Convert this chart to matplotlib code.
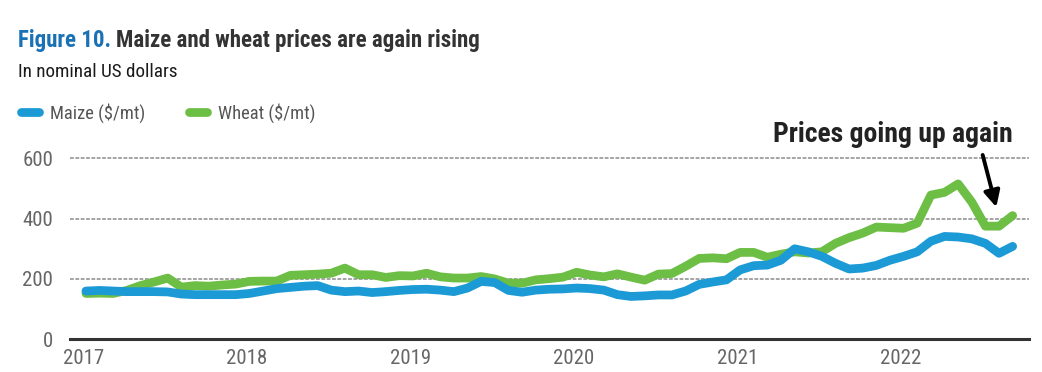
import matplotlib
matplotlib.use("Agg")
import matplotlib.pyplot as plt
from matplotlib import font_manager
import numpy as np

# Monthly prices, Jan 2017 - Sep 2022 (US$/mt)
maize = [
    160, 162, 160, 158, 158, 158, 157, 150, 148, 148, 148, 148,   # 2017
    152, 160, 168, 172, 176, 178, 163, 158, 160, 155, 158, 162,   # 2018
    165, 166, 163, 158, 170, 192, 188, 162, 156, 163, 166, 167,   # 2019
    170, 168, 163, 148, 142, 144, 147, 147, 160, 182, 190, 197,   # 2020
    230, 244, 246, 262, 300, 290, 275, 252, 233, 236, 245, 262,   # 2021
    275, 290, 325, 341, 339, 333, 318, 285, 308,                  # 2022
]
wheat = [
    152, 153, 152, 162, 178, 190, 203, 173, 178, 176, 180, 183,   # 2017
    192, 193, 193, 212, 214, 216, 219, 236, 214, 214, 205, 211,   # 2018
    210, 219, 207, 203, 203, 208, 200, 186, 186, 197, 201, 206,   # 2019
    222, 213, 207, 217, 206, 196, 216, 218, 242, 268, 270, 267,   # 2020
    288, 288, 272, 282, 290, 286, 290, 318, 337, 352, 372, 370,   # 2021
    368, 385, 478, 487, 515, 455, 375, 375, 410,                  # 2022
]
years = ["2017", "2018", "2019", "2020", "2021", "2022"]
y_ticks = [0, 200, 400, 600]
series_names = ["Maize ($/mt)", "Wheat ($/mt)"]

BLUE = "#1b9ad6"
GREEN = "#6dbe45"

# pick a condensed font if one is around
available = {f.name for f in font_manager.fontManager.ttflist}
FONT = "DejaVu Sans"
for cand in ["Roboto Condensed", "Liberation Sans Narrow", "Roboto", "Liberation Sans"]:
    if cand in available:
        FONT = cand
        break
plt.rcParams["font.family"] = [FONT, "DejaVu Sans"]

W, H = 1042, 372
fig = plt.figure(figsize=(W / 100, H / 100), dpi=100)

x_left, x_right = 70, 1029
y_zero, px_per_unit = 339.3, 0.3017
y_top_val = 620
ax = fig.add_axes([x_left / W, 1 - y_zero / H, (x_right - x_left) / W,
                   y_top_val * px_per_unit / H])

months = np.arange(len(maize))
ax.plot(months, maize, color=BLUE, lw=6.3, solid_joinstyle="round",
        solid_capstyle="round", label=series_names[0], zorder=3)
ax.plot(months, wheat, color=GREEN, lw=6.3, solid_joinstyle="round",
        solid_capstyle="round", label=series_names[1], zorder=2)

ax.set_xlim(-1.17, 69.2)
ax.set_ylim(0, y_top_val)
ax.set_xticks(np.arange(len(years)) * 12 - 0.2)
ax.set_xticklabels(years)
ax.set_yticks(y_ticks)
ax.tick_params(axis="both", length=0, labelsize=15, labelcolor="#666666")
ax.tick_params(axis="y", pad=12)
ax.tick_params(axis="x", pad=7)

for s in ["top", "right", "left"]:
    ax.spines[s].set_visible(False)
ax.spines["bottom"].set_color("#333333")
ax.spines["bottom"].set_linewidth(2.2)
ax.spines["bottom"].set_zorder(4)

ax.yaxis.grid(True, color="#8c8c8c", lw=1.1, linestyle=(0, (2.5, 1)))
ax.set_axisbelow(True)

# title block
t1 = fig.text(18 / W, 1 - 47 / H, "Figure 10.", color="#1a72b5",
              fontsize=16.5, fontweight="bold", va="baseline")
r = fig.canvas.get_renderer()
bb = t1.get_window_extent(r)
fig.text(bb.x1 / W + 5 / W, 1 - 47 / H, "Maize and wheat prices are again rising",
         color="#333333", fontsize=16.5, fontweight="bold", va="baseline")
fig.text(18 / W, 1 - 77 / H, "In nominal US dollars", color="#1a1a1a",
         fontsize=13.8, va="baseline")

# legend
fig.legend(loc="center left", bbox_to_anchor=(21 / W, 1 - 113 / H), ncol=2,
           frameon=False, fontsize=13.3, labelcolor="#555555", handlelength=0.95,
           handletextpad=0.6, columnspacing=2.4, borderpad=0, borderaxespad=0)

# annotation
fig.text(1013 / W, 1 - 142 / H, "Prices going up again", color="#222222",
         fontsize=20, fontweight="bold", ha="right", va="baseline")
ax.annotate("", xy=(66.8, 438), xytext=(65.8, 611), annotation_clip=False,
            arrowprops=dict(arrowstyle="-|>", color="black", lw=2.8,
                            mutation_scale=24, shrinkA=0, shrinkB=0))

fig.savefig("out.png", dpi=100)
